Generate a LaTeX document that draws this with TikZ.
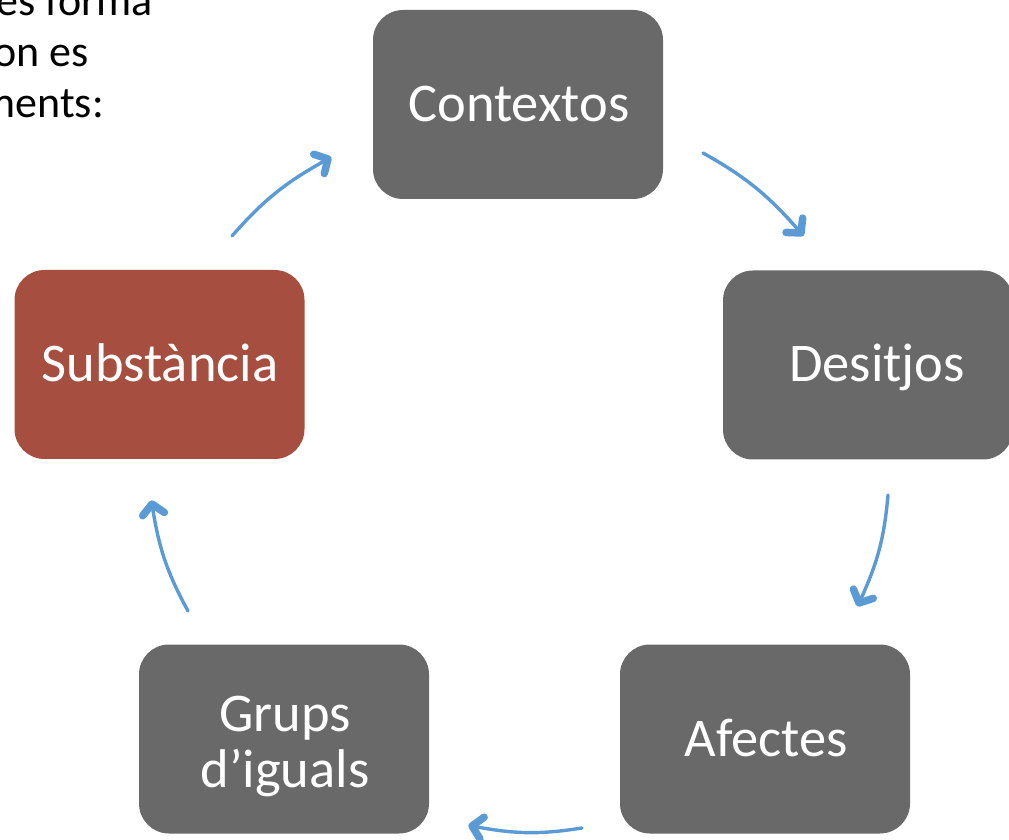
\documentclass[tikz,border=0pt]{standalone}
\usepackage{fontspec}
\setmainfont{Carlito}
\usetikzlibrary{calc}
\definecolor{boxgray}{HTML}{696969}
\definecolor{boxred}{HTML}{A64F40}
\definecolor{arrblue}{HTML}{5B9BD5}
\tikzset{
  box/.style={rectangle, rounded corners=30pt, draw=none, minimum width=290pt, minimum height=189pt, inner sep=0pt},
  lbl/.style={text=white, inner sep=0pt, anchor=base, font=\fontsize{54.5}{64}\selectfont},
  para/.style={text=black, inner sep=0pt, anchor=base east, font=\fontsize{44}{52}\selectfont},
  shaft/.style={draw=arrblue, line width=3.4pt, line cap=round},
  headstroke/.style={draw=arrblue, line width=7.5pt, line cap=round, line join=round}
}
\newcommand{\cyclearrow}[2]{%
  \draw[shaft] (#1) to[bend left=10] (#2);
  \draw[headstroke] ($(#2)!15pt!-57:(#1)$) -- (#2) -- ($(#2)!15pt!37:(#1)$);
}
\begin{document}
\begin{tikzpicture}[x=1pt,y=1pt]
\useasboundingbox (0,0) rectangle (1009,839);
\clip (0,0) rectangle (1009,839);
\fill[white] (0,0) rectangle (1009,839);
% paragraph fragment
\node[para] (p1) at (153,823) {es forma};
\node[para] (p2) at (89,772) {on es};
\node[para] (p3) at (104,721) {ments:};
% boxes
\node[box, fill=boxgray] (ctx) at (518,734.5) {};
\node[lbl] (ctxt) at (519,717) {Contextos};
\node[box, fill=boxgray] (des) at (868,474) {};
\node[lbl] (dest) at (877,457) {Desitjos};
\node[box, fill=boxred] (sub) at (159.5,474.5) {};
\node[lbl] (subt) at (160,457) {Substància};
\node[box, fill=boxgray] (gru) at (284,100) {};
\node[lbl] (grut1) at (285,108) {Grups};
\node[lbl] (grut2) at (285,52) {d’iguals};
\node[box, fill=boxgray] (afe) at (765,100) {};
\node[lbl] (afet) at (766,83) {Afectes};
% arrow end points
\coordinate (a1s) at (232,603);
\coordinate (a1e) at (328,680);
\coordinate (a2s) at (703,686);
\coordinate (a2e) at (801,606);
\coordinate (a3s) at (888,344);
\coordinate (a3e) at (859,236);
\coordinate (a4s) at (582,11);
\coordinate (a4e) at (472,13);
\coordinate (a5s) at (188,228);
\coordinate (a5e) at (152,335);
\cyclearrow{a1s}{a1e}
\cyclearrow{a2s}{a2e}
\cyclearrow{a3s}{a3e}
\cyclearrow{a4s}{a4e}
\cyclearrow{a5s}{a5e}
\end{tikzpicture}
\end{document}
